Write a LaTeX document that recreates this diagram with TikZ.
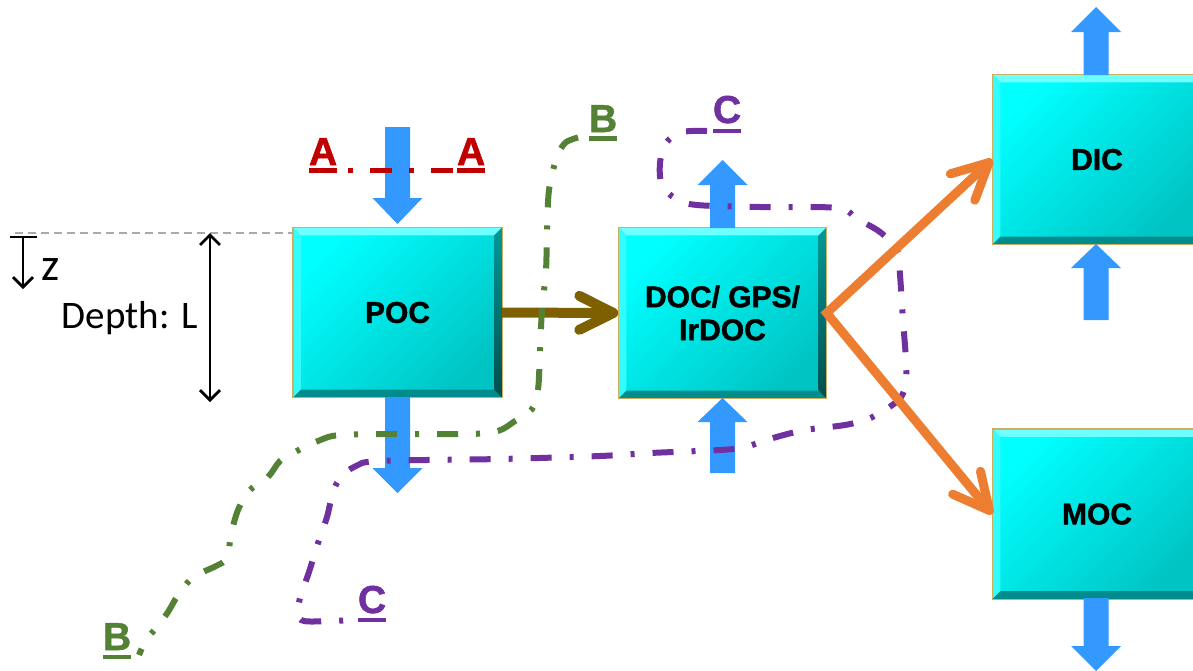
\documentclass[tikz,border=0pt]{standalone}
\usepackage{fontspec}
\setmainfont{Liberation Sans}
\newfontfamily\calib{Carlito}
\newfontfamily\heavyfont[FakeBold=1.3]{Liberation Sans Bold}
\usetikzlibrary{arrows.meta}
\definecolor{cyanc}{RGB}{0,255,255}
\definecolor{cyand}{RGB}{0,196,196}
\definecolor{bvlight}{RGB}{110,255,255}
\definecolor{bvleftc}{RGB}{50,252,252}
\definecolor{bvbotc}{RGB}{0,140,140}
\definecolor{bvrightc}{RGB}{0,110,110}
\definecolor{boxborder}{RGB}{205,175,95}
\definecolor{blueA}{RGB}{51,153,255}
\definecolor{redA}{RGB}{192,0,0}
\definecolor{greenB}{RGB}{84,130,53}
\definecolor{purpleC}{RGB}{112,48,160}
\definecolor{orangeD}{RGB}{237,125,49}
\definecolor{brownE}{RGB}{127,96,0}
\definecolor{greyline}{RGB}{170,170,170}
\newcommand\bevel[1]{%
  \fill[bvlight] (#1.north west) -- (#1.north east) -- ([shift={(-8,8)}]#1.north east) -- ([shift={(8,8)}]#1.north west) -- cycle;
  \fill[bvleftc] (#1.north west) -- ([shift={(8,8)}]#1.north west) -- ([shift={(8,-8)}]#1.south west) -- (#1.south west) -- cycle;
  \fill[bvbotc] (#1.south west) -- ([shift={(8,-8)}]#1.south west) -- ([shift={(-8,-8)}]#1.south east) -- (#1.south east) -- cycle;
  \shade[top color=bvrightc!70!cyanc, bottom color=bvrightc!70!black] (#1.north east) -- (#1.south east) -- ([shift={(-8,-8)}]#1.south east) -- ([shift={(-8,8)}]#1.north east) -- cycle;
  \draw[boxborder, line width=1.4pt] (#1.north west) rectangle (#1.south east);
}
\newcommand\bluearrow[4]{%
  \fill[blueA] (#1-12.5,#2) -- (#1+12.5,#2) -- (#1+12.5,#3) -- (#1+25,#3) -- (#1,#4) -- (#1-25,#3) -- (#1-12.5,#3) -- cycle;}
\begin{document}
\begin{tikzpicture}[x=1pt,y=-1pt,
  box/.style={draw=boxborder, line width=1.4pt, minimum width=208pt, minimum height=169pt, inner sep=0pt,
    top color=cyanc, bottom color=cyand, shading angle=45},
  boxtext/.style={font=\heavyfont\fontsize{30}{33}\selectfont, align=center, text=black},
  lab/.style={inner sep=0pt, outer sep=0pt, font=\heavyfont\fontsize{39}{39}\selectfont, anchor=base west},
  ddot/.style={line width=6pt, dash pattern=on 21pt off 18pt on 4pt off 18pt},
  thinarrow/.style={line width=2.8pt, black},
  flowarrow/.style={line width=9pt, line join=miter},
]
\useasboundingbox (0,0) rectangle (1193,670);
\clip (0,0) rectangle (1193,670);

% boxes
\node[box] (POC) at (397.5,312.5) {};
\bevel{POC}
\node[box, minimum width=207pt, minimum height=170pt] (DOC) at (722.5,313) {};
\bevel{DOC}
\node[box] (DIC) at (1097,159.5) {};
\bevel{DIC}
\node[box] (MOC) at (1097,514) {};
\bevel{MOC}
\node[boxtext] (tPOC) at (POC) {POC};
\node[boxtext] (tDOC) at (DOC) {DOC/ GPS/\\IrDOC};
\node[boxtext] (tDIC) at (DIC) {DIC};
\node[boxtext] (tMOC) at (MOC) {MOC};

% blue block arrows
\bluearrow{397.5}{127}{198}{224}
\bluearrow{397.5}{397}{468}{493}
\bluearrow{722.5}{228}{185}{160}
\bluearrow{722.5}{473}{422}{398}
\bluearrow{1096}{75}{32}{7}
\bluearrow{1096}{320}{268}{244}
\bluearrow{1096}{598}{646}{671}

% depth markers
\draw[greyline, line width=1.5pt, dash pattern=on 8pt off 5pt] (15,233) -- (293,233);
\coordinate (dtop) at (210,233);
\coordinate (dbot) at (210,402);
\draw[thinarrow, {Straight Barb[length=10pt,width=20pt]}-{Straight Barb[length=10pt,width=20pt]}] (dtop) -- (dbot);
\node[font=\calib\fontsize{39}{39}\selectfont, anchor=base east, inner sep=0pt] (depth) at (198,328) {Depth: L};
\coordinate (zl) at (10,237);
\coordinate (zr) at (37,237);
\coordinate (zt) at (23,237);
\coordinate (zb) at (23,289);
\draw[thinarrow] (zl) -- (zr);
\draw[thinarrow, -{Straight Barb[length=10pt,width=20pt]}] (zt) -- (zb);
\node[font=\calib\fontsize{46}{46}\selectfont, anchor=base west, inner sep=0pt] (zlab) at (41,280) {z};

% brown flow arrow
\draw[brownE, flowarrow, line width=10pt, -{Straight Barb[length=34pt,width=34pt,line cap=round,line join=round]}] (POC.east) -- (DOC.west);

% section labels
\node[lab, text=redA] (A1) at (309,165) {A};
\node[lab, text=redA] (A2) at (457,165) {A};
\draw[redA, line width=4.5pt] ([yshift=-5.5pt]A1.base west) -- ([yshift=-5.5pt]A1.base east);
\draw[redA, line width=4.5pt] ([yshift=-5.5pt]A2.base west) -- ([yshift=-5.5pt]A2.base east);
\draw[redA, line width=4.5pt, dash pattern=on 22pt off 17pt on 5pt off 17pt, dash phase=28pt] ([yshift=-5.5pt]A1.base east) -- ([yshift=-5.5pt]A2.base west);

\node[lab, text=greenB] (B1) at (589,132) {B};
\node[lab, text=greenB] (B2) at (103,650) {B};
\draw[greenB, line width=4.5pt] ([yshift=-6.5pt]B1.base west) -- ([yshift=-6.5pt]B1.base east);
\draw[greenB, line width=4.5pt] ([yshift=-7pt]B2.base west) -- ([yshift=-7pt]B2.base east);

\node[lab, text=purpleC] (C1) at (713,123) {C};
\node[lab, text=purpleC] (C2) at (358,613) {C};
\draw[purpleC, line width=4.5pt] ([yshift=-8pt]C1.base west) -- ([yshift=-8pt]C1.base east);
\draw[purpleC, line width=4.5pt] ([yshift=-7pt]C2.base west) -- ([yshift=-7pt]C2.base east);

% section B path
\draw[greenB, ddot, dash phase=-2pt] plot[smooth, tension=0.55] coordinates {
 (580,137) (565,143) (556,160) (549,190) (547,230) (546,270) (542,310) (540,350) (538,390)
 (532,409) (515,421) (498,431) (470,434) (400,434) (340,435) (318,441) (295,452) (280,461)
 (268,477) (250,490) (238,510) (231,535) (227,558) (216,566) (203,572) (190,580) (178,595)
 (168,612) (157,627) (146,640) (139,655)};

% section C path
\draw[purpleC, ddot, dash phase=-4pt] plot[smooth, tension=0.55] coordinates {
 (711,131) (682,132) (666,143) (660,163) (662,185) (676,199) (697,205) (760,207) (837,208)
 (857,219) (880,232) (897,250) (900,275) (903,320) (906,360) (906,382) (901,397) (888,408)
 (868,419) (845,425) (805,430) (773,438) (745,447) (720,450) (650,453) (600,456) (500,459)
 (380,461) (356,466) (341,477) (333,492) (327,517) (318,543) (309,572) (300,598) (298,614)
 (304,621) (330,621) (356,620)};

% orange flow arrows (drawn over the section line)
\draw[orangeD, flowarrow, {Straight Barb[length=36pt,width=36pt,line cap=round,line join=round]}-{Straight Barb[length=36pt,width=36pt,line cap=round,line join=round]}] (DIC.west) -- (DOC.east) -- (MOC.west);
\end{tikzpicture}
\end{document}
